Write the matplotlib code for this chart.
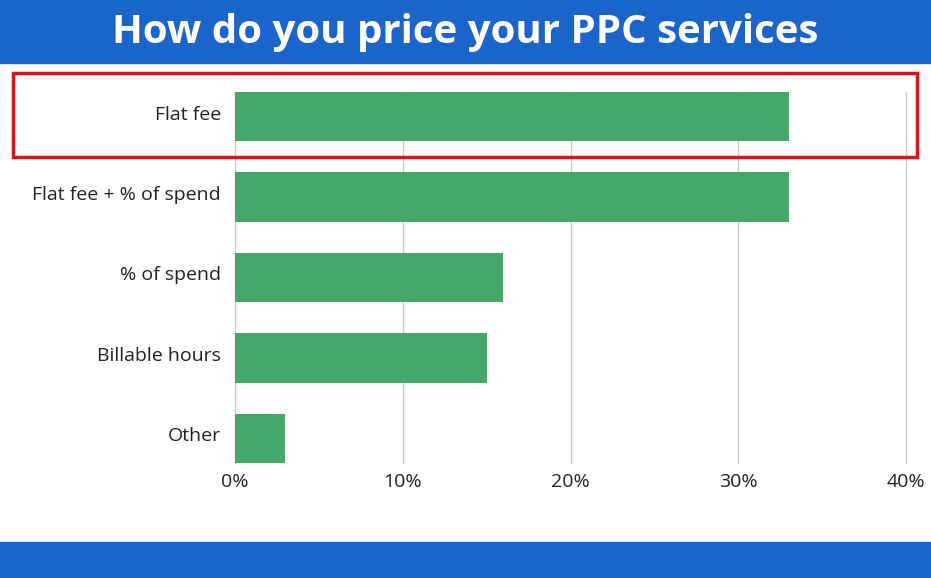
import matplotlib.pyplot as plt
import matplotlib.transforms as mtransforms
from matplotlib.patches import Rectangle
from matplotlib.ticker import FuncFormatter

# data
categories = ["Flat fee", "Flat fee + % of spend", "% of spend", "Billable hours", "Other"]
shares = [33, 33, 16, 15, 3]
xticks = [0, 10, 20, 30, 40]

blue = "#1a65cb"
green = "#45a76a"
red = "#d7141c"

W, H = 931, 578
fig = plt.figure(figsize=(W / 100, H / 100), dpi=100)
plt.rcParams['font.family'] = ['Open Sans', 'DejaVu Sans']

# blue bands top and bottom
fig.patches.append(Rectangle((0, 1 - 63 / H), 1, 63 / H, transform=fig.transFigure,
                             color=blue, zorder=0))
fig.patches.append(Rectangle((0, 0), 1, 36 / H, transform=fig.transFigure,
                             color=blue, zorder=0))
fig.text(0.5, 1 - 32 / H, "How do you price your PPC services", color="white",
         fontsize=29, fontweight="bold", ha="center", va="center")

# axes: x 235..906 px, y 92..463 px
left, right, top, bottom = 235, 906, 92, 463
ax = fig.add_axes([left / W, 1 - bottom / H, (right - left) / W, (bottom - top) / H])

bh = 0.61
y = list(range(len(categories)))
ax.barh(y, shares, height=bh, color=green, zorder=3)
ax.set_ylim(len(categories) - 1 + bh / 2, -bh / 2)
ax.set_xlim(0, 40)
ax.set_xticks(xticks)
ax.xaxis.set_major_formatter(FuncFormatter(lambda v, p: "%d%%" % v))
ax.set_yticks(y)
ax.set_yticklabels(categories)
ax.tick_params(axis="both", length=0, labelsize=14, colors="#222222")
ax.tick_params(axis="x", pad=7)
ax.tick_params(axis="y", pad=10)
# labels sit a few pixels above the bar centre in the original
shift = mtransforms.ScaledTranslation(0, 4 / 100, fig.dpi_scale_trans)
for lab in ax.get_yticklabels():
    lab.set_verticalalignment("center_baseline")
    lab.set_transform(lab.get_transform() + shift)
ax.grid(axis="x", color="#cccccc", linewidth=1, zorder=0)
for g in ax.get_xgridlines():
    g.set_clip_on(False)
for s in ax.spines.values():
    s.set_visible(False)

# red highlight box round the first row
fig.patches.append(Rectangle((13 / W, 1 - 157 / H), (917 - 13) / W, (157 - 73) / H,
                             transform=fig.transFigure, fill=False,
                             edgecolor=red, linewidth=2.5, zorder=5))

fig.savefig("out.png", dpi=100)
